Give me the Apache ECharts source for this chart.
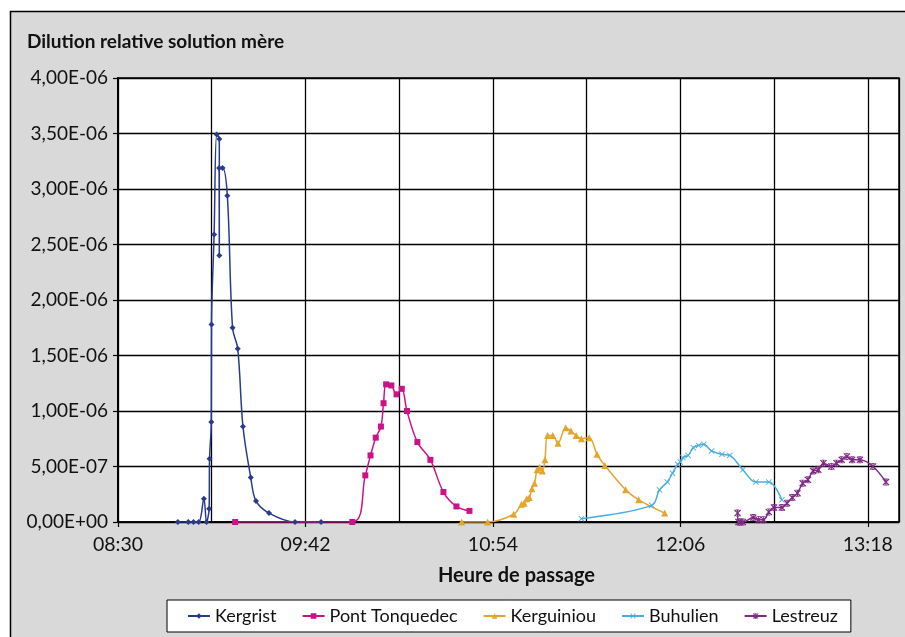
<!DOCTYPE html>
<html><head><meta charset="utf-8">
<script src="https://cdn.jsdelivr.net/npm/echarts@6/dist/echarts.min.js"></script>
<style>html,body{margin:0;padding:0;background:#fff}#c{width:905px;height:637px}</style>
</head><body><div id="c"></div>
<script>
// ---- data ----
const seriesNames = ["Kergrist", "Pont Tonquedec", "Kerguiniou", "Buhulien", "Lestreuz"];

const kergristTimes = ["08:53","08:57","08:59","09:01","09:03","09:04","09:05:00","09:05:10","09:05:50","09:05:55","09:06:55","09:07:55","09:08:55","09:08:55","09:08:50","09:10:10","09:12","09:14","09:16","09:18","09:21","09:23","09:28","09:38","09:48"];
const kergristValues = [0,0,0,0,2.1e-7,0,1.2e-7,5.7e-7,9.0e-7,1.78e-6,2.59e-6,3.49e-6,3.45e-6,2.40e-6,3.19e-6,3.19e-6,2.94e-6,1.75e-6,1.56e-6,8.6e-7,4.0e-7,1.9e-7,8e-8,0,0];

const pontTimes = ["09:15","10:00","10:05","10:07","10:09","10:11","10:12","10:13","10:15","10:17","10:19","10:21","10:25","10:30","10:35","10:40","10:45"];
const pontValues = [0,0,4.2e-7,6.0e-7,7.6e-7,8.6e-7,1.07e-6,1.24e-6,1.23e-6,1.15e-6,1.20e-6,1.00e-6,7.2e-7,5.6e-7,2.7e-7,1.4e-7,1.0e-7];

const kerguiniouTimes = ["10:42","10:52","11:02","11:05","11:06","11:07","11:08","11:09","11:10","11:11","11:12","11:13","11:14","11:15","11:17","11:19","11:22","11:24","11:26","11:28","11:31","11:34","11:37","11:45","11:50","12:00"];
const kerguiniouValues = [0,0,7e-8,1.6e-7,1.7e-7,2.1e-7,2.2e-7,3.0e-7,3.5e-7,4.7e-7,4.9e-7,4.6e-7,5.6e-7,7.8e-7,7.8e-7,7.1e-7,8.5e-7,8.2e-7,7.8e-7,7.5e-7,7.6e-7,6.1e-7,5.1e-7,2.9e-7,2.0e-7,8e-8];

const buhulienTimes = ["11:28","11:55","11:58","12:01","12:03","12:05","12:06","12:07","12:09","12:11","12:13","12:15","12:18","12:22","12:25","12:30","12:35","12:40","12:45"];
const buhulienValues = [3e-8,1.5e-7,2.9e-7,3.6e-7,4.4e-7,5.2e-7,5.4e-7,5.8e-7,6.0e-7,6.7e-7,6.9e-7,7.0e-7,6.4e-7,6.1e-7,6.0e-7,4.7e-7,3.6e-7,3.6e-7,2.0e-7];

const lestreuzTimes = ["12:28","12:28:20","12:29","12:30","12:34","12:36","12:38","12:40","12:42","12:45","12:47","12:49","12:51","12:53","12:55","12:57","12:59","13:01","13:04","13:06","13:08","13:10","13:12","13:15","13:20","13:25"];
const lestreuzValues = [8e-8,0,0,0,4e-8,2e-8,2e-8,9e-8,1.3e-7,1.3e-7,1.7e-7,2.2e-7,2.6e-7,3.5e-7,3.8e-7,4.6e-7,4.7e-7,5.3e-7,5.0e-7,5.3e-7,5.6e-7,5.9e-7,5.6e-7,5.6e-7,5.0e-7,3.6e-7];

const xStart = "08:30", xEnd = "13:30";
const xLabelStepMin = 72, xGridStepMin = 36;
const yMax = 4e-6, yStep = 5e-7;

// ---- helpers ----
function clock(t){const p=t.split(':').map(Number);return p[0]*60+p[1]+(p[2]||0)/60;}
const base = clock(xStart);
function toMin(t){return clock(t)-base;}
function fmtTime(m){const t=Math.round(m+base);const h=Math.floor(t/60),mm=t%60;return String(h).padStart(2,'0')+':'+String(mm).padStart(2,'0');}
function fmtSci(v){
  if(Math.abs(v)<1e-15) return '0,00E+00';
  let s=v.toExponential(2); let parts=s.split('e'); let e=parts[1];
  const sign=e[0]==='-'?'-':'+'; e=e.replace(/[+-]/,'');
  return parts[0].replace('.',',')+'E'+sign+e.padStart(2,'0');
}
const FONT='Lato';
const xSym='path://M0,1L1,0L5,4L9,0L10,1L6,5L10,9L9,10L5,6L1,10L0,9L4,5Z';
const starSym='path://M0,1.2L1.2,0L5,3.8L8.8,0L10,1.2L6.2,5L10,8.8L8.8,10L5,6.2L1.2,10L0,8.8L3.8,5Z M4.3,0L5.7,0L5.7,10L4.3,10Z M2.5,0L7.5,0L7.5,1.2L2.5,1.2Z M2.5,8.8L7.5,8.8L7.5,10L2.5,10Z';

const defs = [
  {times:kergristTimes, vals:kergristValues, color:'#2a3a8c', symbol:'diamond', size:6},
  {times:pontTimes, vals:pontValues, color:'#cc1288', symbol:'rect', size:6},
  {times:kerguiniouTimes, vals:kerguiniouValues, color:'#e3a52c', symbol:'triangle', size:7},
  {times:buhulienTimes, vals:buhulienValues, color:'#45ade2', symbol:xSym, size:6},
  {times:lestreuzTimes, vals:lestreuzValues, color:'#7f2b85', symbol:starSym, size:7}
];

const series = defs.map((d,i)=>({
  name: seriesNames[i], type:'line', xAxisIndex:0, yAxisIndex:0,
  data: d.times.map((t,j)=>[toMin(t), d.vals[j]]),
  smooth:0.35, symbol:d.symbol, symbolSize:d.size, showSymbol:true,
  lineStyle:{color:d.color, width:1.5}, itemStyle:{color:d.color},
  emphasis:{disabled:true}, animation:false
}));

const xMax = toMin(xEnd);
const chart = echarts.init(document.getElementById('c'), null, {renderer:'canvas'});
chart.setOption({
  animation:false,
  backgroundColor:'#fff',
  title:{text:'Dilution relative solution mère', left:27, top:32, padding:0,
    textStyle:{fontFamily:FONT, fontSize:19, fontWeight:'bold', color:'#111', lineHeight:19}},
  graphic:[
    {type:'rect', z:-100, shape:{x:10.5, y:11.5, width:1000, height:1000}, style:{fill:'#d9d9d9', stroke:'#000', lineWidth:1.5}},
    {type:'text', left:438, top:566, style:{text:'Heure de passage', font:'bold 20px '+FONT, fill:'#111'}}
  ],
  grid:{left:118, top:78, width:781, height:444, show:true, backgroundColor:'#fff', borderColor:'#000', borderWidth:1.5},
  legend:{left:167, top:600, itemWidth:22, itemHeight:7, itemGap:25, padding:[7,13,7,20],
    backgroundColor:'#fff', borderColor:'#000', borderWidth:1, borderRadius:0,
    textStyle:{fontFamily:FONT, fontSize:18, color:'#111', lineHeight:18}, data:seriesNames},
  xAxis:[
    {type:'value', min:0, max:xMax, interval:xLabelStepMin, position:'bottom',
      axisLine:{show:true, onZero:false, lineStyle:{color:'#000', width:1.5}},
      axisTick:{show:true, length:5, lineStyle:{color:'#000', width:1.2}},
      axisLabel:{margin:13, fontFamily:FONT, fontSize:19.5, color:'#111', lineHeight:19, showMaxLabel:false,
        formatter:v=>(Math.round(v)%xLabelStepMin===0?fmtTime(v):'')},
      splitLine:{show:false}},
    {type:'value', min:0, max:xMax, interval:xGridStepMin, position:'bottom',
      axisLine:{show:false}, axisTick:{show:false}, axisLabel:{show:false},
      splitLine:{show:true, lineStyle:{color:'#000', width:1.3}}}
  ],
  yAxis:{type:'value', min:0, max:yMax, interval:yStep,
    axisLine:{show:true, lineStyle:{color:'#000', width:2}},
    axisTick:{show:true, length:5, lineStyle:{color:'#000', width:1.2}},
    axisLabel:{margin:10, fontFamily:FONT, fontSize:19, color:'#111', formatter:fmtSci},
    splitLine:{show:true, lineStyle:{color:'#000', width:1.3}}},
  series: series
});
</script></body></html>
